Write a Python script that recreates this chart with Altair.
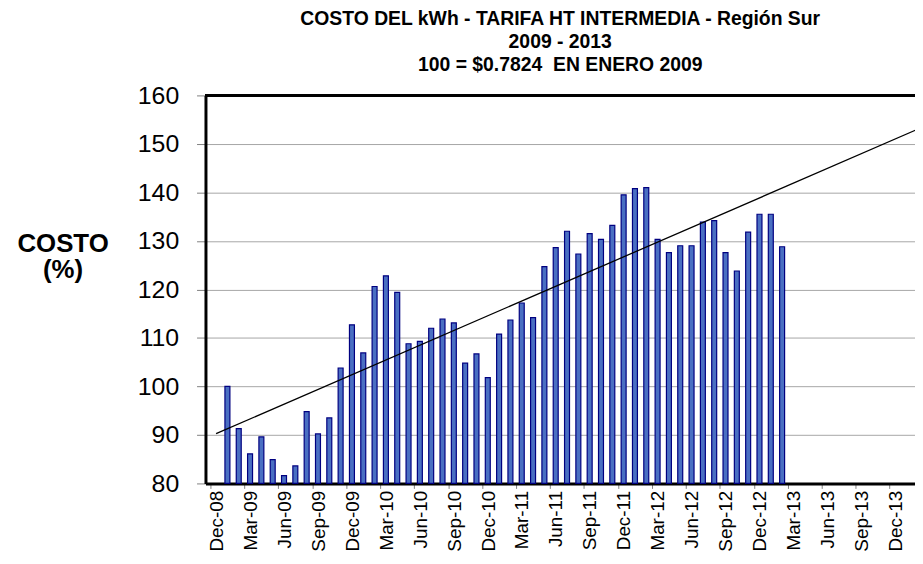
import altair as alt
import pandas as pd

# Monthly values (Jan-09 .. Feb-13)
months = [
    "Jan-09", "Feb-09", "Mar-09", "Apr-09", "May-09", "Jun-09", "Jul-09", "Aug-09", "Sep-09", "Oct-09", "Nov-09", "Dec-09",
    "Jan-10", "Feb-10", "Mar-10", "Apr-10", "May-10", "Jun-10", "Jul-10", "Aug-10", "Sep-10", "Oct-10", "Nov-10", "Dec-10",
    "Jan-11", "Feb-11", "Mar-11", "Apr-11", "May-11", "Jun-11", "Jul-11", "Aug-11", "Sep-11", "Oct-11", "Nov-11", "Dec-11",
    "Jan-12", "Feb-12", "Mar-12", "Apr-12", "May-12", "Jun-12", "Jul-12", "Aug-12", "Sep-12", "Oct-12", "Nov-12", "Dec-12",
    "Jan-13", "Feb-13",
]
costo = [
    100.0, 91.3, 86.1, 89.6, 84.9, 81.6, 83.6, 94.8, 90.2, 93.5, 103.8, 112.7,
    106.9, 120.6, 122.8, 119.4, 108.8, 109.3, 112.0, 113.9, 113.1, 104.8, 106.7, 101.8,
    110.8, 113.7, 117.2, 114.2, 124.7, 128.6, 132.0, 127.3, 131.5, 130.3, 133.2, 139.5,
    140.8, 141.0, 130.3, 127.6, 129.0, 129.0, 133.9, 134.2, 127.6, 123.8, 131.8, 135.5,
    135.5, 128.8,
]
tick_labels = [
    "Dec-08", "Mar-09", "Jun-09", "Sep-09", "Dec-09", "Mar-10", "Jun-10", "Sep-10", "Dec-10",
    "Mar-11", "Jun-11", "Sep-11", "Dec-11", "Mar-12", "Jun-12", "Sep-12", "Dec-12",
    "Mar-13", "Jun-13", "Sep-13", "Dec-13",
]
y_ticks = [80, 90, 100, 110, 120, 130, 140, 150, 160]
title_lines = [
    "COSTO DEL kWh - TARIFA HT INTERMEDIA - Región Sur",
    "2009 - 2013",
    "100 = $0.7824\u00a0\u00a0EN ENERO 2009",
]

# month position on the axis (Dec-08 tick = 0, bars sit mid-month)
df = pd.DataFrame({"mes": months, "costo": costo})
df["pos"] = [i + 1.5 for i in range(len(months))]

FONT = "Arial, Liberation Sans, sans-serif"
X_MAX = 61.8
W = 715
H = 391

label_arr = "[" + ",".join("'" + t + "'" for t in tick_labels) + "]"
x_scale = alt.Scale(domain=[0, X_MAX], nice=False, zero=False)
y_scale = alt.Scale(domain=[80, 160], nice=False, zero=False)

x_axis = alt.Axis(
    values=[3 * i for i in range(len(tick_labels))],
    labelExpr=label_arr + "[round(datum.value / 3)]",
    labelAngle=-90, labelAlign="right", labelBaseline="middle", labelOffset=6,
    labelFontSize=19, labelFont=FONT, labelColor="black", labelPadding=2,
    labelOverlap=False, labelSeparation=0, labelBound=False, labelFlush=False,
    domainColor="black", domainWidth=3,
    tickColor="#808080", tickSize=5, tickWidth=1,
    grid=False, title=None,
)
y_axis = alt.Axis(
    values=y_ticks,
    labelFontSize=25, labelFont=FONT, labelColor="black", labelPadding=18,
    labelOverlap=False,
    domainColor="black", domainWidth=3,
    tickColor="#808080", tickSize=9, tickWidth=1,
    grid=True, gridColor="#A6A6A6", gridWidth=1,
    title=["COSTO", "(%)"], titleAngle=0, titleAlign="center", titleBaseline="alphabetic",
    titleX=-144, titleY=157, titleFontSize=26, titleFont=FONT, titleFontWeight="bold",
    titleLineHeight=27, titleColor="black",
)

bars = alt.Chart(df).mark_bar(
    size=5, fill="#4A6FC2", stroke="#000080", strokeWidth=1.2
).encode(
    x=alt.X("pos:Q", scale=x_scale, axis=x_axis),
    y=alt.Y("costo:Q", scale=y_scale, axis=y_axis),
    y2=alt.datum(80),
)

trend = alt.Chart(df).transform_regression(
    "pos", "costo", extent=[0.5, 64]
).mark_line(color="black", strokeWidth=1.3, clip=True).encode(
    x=alt.X("pos:Q", scale=x_scale, axis=x_axis),
    y=alt.Y("costo:Q", scale=y_scale, axis=y_axis),
)

top_border = alt.Chart(df).mark_rule(color="black", strokeWidth=2.5).encode(
    x=alt.value(0), x2=alt.value(W), y=alt.datum(160, axis=y_axis)
)

chart = alt.layer(bars, trend, top_border).properties(
    width=W, height=H,
    autosize=alt.AutoSizeParams(type="none"),
    padding={"left": 199, "top": 86, "right": 0, "bottom": 66},
    title=alt.TitleParams(
        text=title_lines, anchor="middle", orient="top", fontSize=19.5, font=FONT,
        fontWeight="bold", color="black", lineHeight=23, offset=8,
    ),
).configure_view(stroke=None)

chart.save("out.html", embed_options={"renderer": "svg", "actions": False})
